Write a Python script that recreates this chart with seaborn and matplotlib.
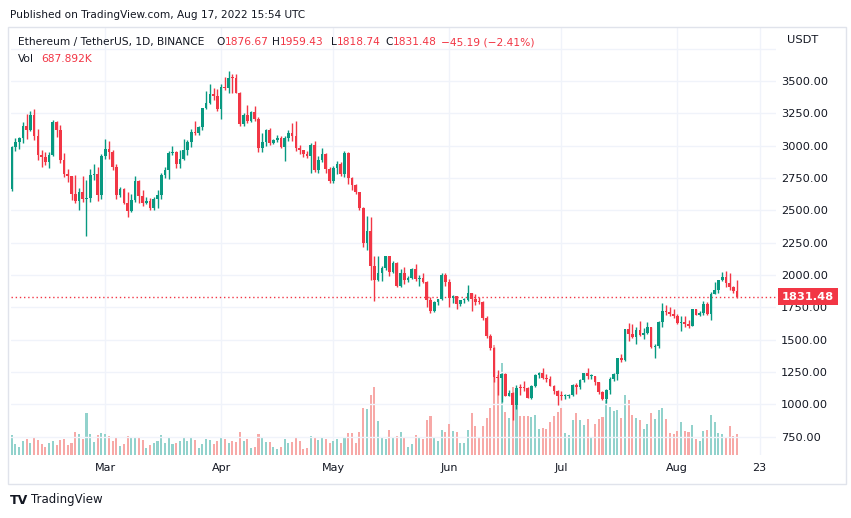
import numpy as np
import pandas as pd
import seaborn as sns
import matplotlib.pyplot as plt
from matplotlib.patches import Rectangle

# daily ETH/USDT candles, Feb 4 - Aug 17 2022
dates = pd.date_range('2022-02-04', '2022-08-17', freq='D')

opens = [2661, 2989, 3026, 3059, 3150, 3118, 3240, 3074, 2928, 2916, 2872, 2929, 3182, 3123, 2890, 2784, 2762, 2624, 2570, 2640, 2590, 2598, 2775, 2780, 2620,
         2920, 2973, 2950, 2834, 2617, 2664, 2555, 2495, 2576, 2728, 2608, 2559, 2571, 2518, 2591, 2620, 2773, 2814, 2945, 2948, 2860, 2895, 2970, 3030, 3108, 3101, 3143, 3295, 3329, 3399, 3384,
         3281, 3453, 3445, 3522, 3520, 3410, 3170, 3235, 3190, 3261, 3210, 2980, 3030, 3118, 3019, 3040, 3062, 2992, 3058, 3101, 3075, 2985, 2963, 2935, 2922, 3008, 2808, 2889, 2936, 2817,
         2726, 2825, 2857, 2780, 2940, 2748, 2695, 2640, 2518, 2245, 2343, 2072, 1962, 2014, 2056, 2145, 2024, 2090, 1913, 2018, 1960, 1975, 2043, 1972, 1978, 1943, 1803, 1725, 1791, 1812, 1997,
         1942, 1823, 1834, 1775, 1805, 1806, 1860, 1813, 1794, 1789, 1665, 1531, 1435, 1208, 1206, 1235, 1066, 1087, 994, 1128, 1127, 1125, 1051, 1144, 1225, 1243, 1200, 1193, 1143, 1099,
         1067, 1060, 1067, 1074, 1150, 1134, 1187, 1238, 1215, 1217, 1169, 1097, 1038, 1113, 1192, 1233, 1355, 1339, 1581, 1542, 1521, 1576, 1536, 1550, 1600, 1440, 1450, 1636, 1725, 1713, 1695,
         1679, 1631, 1633, 1619, 1608, 1736, 1694, 1705, 1776, 1701, 1852, 1880, 1958, 1983, 1935, 1904, 1876.67]
highs = [3000, 3056, 3069, 3180, 3247, 3271, 3283, 3132, 2968, 2949, 2948, 3200, 3191, 3159, 2944, 2820, 2767, 2770, 2671, 2768, 2736, 2823, 2858, 2835, 2932,
         3050, 3039, 2970, 2855, 2680, 2672, 2644, 2623, 2767, 2733, 2660, 2605, 2595, 2600, 2654, 2792, 2835, 2955, 3000, 2960, 2965, 3050, 3040, 3125, 3190, 3150, 3295, 3420, 3480, 3446, 3438,
         3475, 3534, 3580, 3553, 3555, 3414, 3250, 3313, 3270, 3305, 3218, 3100, 3130, 3137, 3055, 3079, 3075, 3078, 3120, 3172, 3190, 3005, 2965, 2962, 3018, 3038, 2920, 2985, 2945, 2835,
         2845, 2885, 2875, 2955, 2953, 2760, 2700, 2645, 2525, 2454, 2450, 2146, 2143, 2070, 2150, 2150, 2110, 2100, 2045, 2065, 1990, 2050, 2087, 2000, 2015, 1950, 1828, 1800, 1815, 2015, 2015,
         1972, 1842, 1835, 1808, 1820, 1920, 1862, 1850, 1830, 1800, 1685, 1544, 1445, 1265, 1245, 1240, 1110, 1095, 1152, 1158, 1177, 1130, 1150, 1234, 1250, 1281, 1235, 1220, 1146, 1114,
         1100, 1076, 1082, 1155, 1162, 1192, 1243, 1283, 1235, 1220, 1170, 1100, 1115, 1210, 1243, 1360, 1387, 1584, 1625, 1620, 1595, 1645, 1590, 1633, 1601, 1464, 1645, 1785, 1765, 1755, 1735,
         1697, 1680, 1680, 1655, 1740, 1740, 1725, 1795, 1790, 1870, 1942, 1963, 2020, 2030, 2013, 1917, 1959.43]
lows = [2652, 2958, 2976, 3022, 3053, 3110, 3046, 2888, 2835, 2851, 2830, 2921, 3070, 2865, 2760, 2720, 2580, 2560, 2503, 2565, 2300, 2565, 2735, 2575, 2584,
        2900, 2900, 2812, 2590, 2605, 2545, 2451, 2484, 2565, 2558, 2536, 2550, 2506, 2505, 2515, 2590, 2752, 2740, 2925, 2831, 2825, 2890, 2930, 2987, 3081, 3084, 3121, 3285, 3325, 3350, 3268,
        3210, 3433, 3410, 3405, 3405, 3150, 3154, 3172, 3185, 3188, 2950, 2950, 2996, 3005, 3010, 3025, 2985, 2884, 3038, 3035, 2962, 2935, 2915, 2905, 2790, 2793, 2790, 2870, 2790, 2715,
        2712, 2780, 2765, 2760, 2700, 2655, 2625, 2500, 2215, 2193, 1960, 1795, 1952, 1950, 2040, 1990, 2014, 1905, 1906, 1930, 1945, 1966, 1955, 1915, 1935, 1750, 1705, 1716, 1765, 1805, 1916,
        1750, 1785, 1740, 1757, 1780, 1800, 1722, 1770, 1775, 1650, 1510, 1423, 1170, 1075, 1017, 1060, 1060, 880, 960, 1070, 1105, 1046, 1044, 1133, 1201, 1195, 1170, 1138, 1080, 995,
        1034, 1040, 1045, 1060, 1080, 1120, 1170, 1195, 1198, 1152, 1082, 1032, 1006, 1078, 1176, 1190, 1330, 1337, 1490, 1510, 1465, 1525, 1502, 1543, 1437, 1356, 1433, 1600, 1690, 1680, 1670,
        1620, 1565, 1600, 1586, 1606, 1690, 1680, 1690, 1688, 1655, 1850, 1860, 1950, 1905, 1880, 1860, 1818.74]
closes = [2989, 3026, 3059, 3150, 3118, 3240, 3074, 2928, 2916, 2872, 2929, 3182, 3123, 2890, 2784, 2762, 2624, 2570, 2640, 2590, 2598, 2775, 2780, 2620, 2920,
          2973, 2950, 2834, 2617, 2664, 2555, 2495, 2576, 2728, 2608, 2559, 2571, 2518, 2591, 2620, 2773, 2814, 2945, 2948, 2860, 2895, 2970, 3030, 3108, 3101, 3143, 3295, 3329, 3399, 3384, 3281,
          3453, 3445, 3522, 3520, 3410, 3170, 3235, 3190, 3261, 3210, 2980, 3030, 3118, 3019, 3040, 3062, 2992, 3058, 3101, 3075, 2985, 2963, 2935, 2922, 3008, 2808, 2889, 2936, 2817, 2726,
          2825, 2857, 2780, 2940, 2748, 2695, 2640, 2518, 2245, 2343, 2072, 1962, 2014, 2056, 2145, 2024, 2090, 1913, 2018, 1960, 1975, 2043, 1972, 1978, 1943, 1803, 1725, 1791, 1812, 1997, 1942,
          1823, 1834, 1775, 1805, 1806, 1860, 1813, 1794, 1789, 1665, 1531, 1435, 1208, 1206, 1235, 1066, 1087, 994, 1128, 1127, 1125, 1051, 1144, 1225, 1243, 1200, 1193, 1143, 1099, 1067,
          1060, 1067, 1074, 1150, 1134, 1187, 1238, 1215, 1217, 1169, 1097, 1038, 1113, 1192, 1233, 1355, 1339, 1581, 1542, 1521, 1576, 1536, 1550, 1600, 1440, 1450, 1636, 1725, 1713, 1695, 1679,
          1631, 1633, 1619, 1608, 1736, 1694, 1705, 1776, 1701, 1852, 1880, 1958, 1983, 1935, 1904, 1877, 1831.48]
# volume in thousand ETH
volume_k = [654, 360, 262, 458, 523, 392, 589, 490, 360, 262, 392, 458, 327, 490, 523, 327, 392, 752, 687, 523, 1373, 687, 425, 654, 719,
            687, 621, 458, 556, 294, 360, 621, 556, 556, 556, 490, 229, 327, 392, 458, 654, 392, 556, 360, 392, 458, 589, 458, 589, 490, 229, 360, 523, 490, 360, 458,
            556, 523, 392, 458, 425, 752, 458, 523, 229, 262, 687, 589, 425, 425, 262, 196, 262, 523, 392, 425, 556, 458, 196, 229, 621, 556, 490, 556, 523, 392,
            458, 523, 392, 556, 719, 719, 392, 752, 1537, 1504, 1962, 2224, 1112, 556, 523, 818, 589, 621, 752, 589, 262, 360, 654, 556, 523, 1145, 1275, 556, 458, 818, 752,
            1014, 785, 752, 392, 392, 818, 1373, 948, 556, 948, 1210, 1537, 3600, 2616, 3008, 1406, 1210, 2224, 1668, 1275, 1275, 1275, 1243, 1308, 850, 883, 850, 1079, 1275, 1406,
            1537, 719, 654, 1145, 1373, 1145, 981, 1177, 589, 1014, 1177, 1243, 1798, 1570, 1439, 1472, 1210, 1962, 1798, 1308, 1210, 1145, 850, 1014, 1373, 1177, 1472, 1537, 1177, 719, 687,
            785, 1079, 785, 752, 981, 523, 458, 785, 818, 1308, 1079, 719, 687, 589, 948, 621, 687.892]

month_dates = ['2022-03-01', '2022-04-01', '2022-05-01', '2022-06-01', '2022-07-01', '2022-08-01', '2022-08-23']
month_labels = ['Mar', 'Apr', 'May', 'Jun', 'Jul', 'Aug', '23']
price_ticks = [750, 1000, 1250, 1500, 1750, 2000, 2250, 2500, 2750, 3000, 3250, 3500, 3750]
last_price = 1831.48

df = pd.DataFrame({'open': opens, 'high': highs, 'low': lows, 'close': closes, 'vol': volume_k})
df['day'] = (dates - dates[0]).days
df['dir'] = np.where(df['close'] >= df['open'], 'up', 'down')
month_days = list((pd.to_datetime(month_dates) - dates[0]).days)

UP, DOWN = '#089981', '#f23645'
TXT = '#131722'
GRID = '#f0f3fa'

sns.set_theme(style='white')
plt.rcParams['font.family'] = ['DejaVu Sans']

W, H = 851, 518
fig = plt.figure(figsize=(W / 100, H / 100), dpi=100)
fig.patch.set_facecolor('white')


def px_rect(l, t, r, b):
    return [l / W, 1 - b / H, (r - l) / W, (b - t) / H]


rect = px_rect(10.5, 28, 776, 455)

# volume underneath
axv = fig.add_axes(rect)
sns.barplot(data=df, x='day', y='vol', hue='dir', palette={'up': '#92d2cc', 'down': '#f7a9a7'},
            native_scale=True, dodge=False, width=0.55, saturation=1, linewidth=0,
            errorbar=None, legend=False, ax=axv)
axv.set_ylim(0, 14000)
axv.set_xlabel('')
axv.set_ylabel('')
axv.tick_params(left=False, bottom=False, labelleft=False, labelbottom=False)
for s in axv.spines.values():
    s.set_visible(False)
axv.set_facecolor('white')

# price axes on top
ax = fig.add_axes(rect, sharex=axv)
ax.set_facecolor('none')
cols = np.where(df['dir'] == 'up', UP, DOWN)
ax.vlines(df['day'], df['low'], df['high'], colors=cols, lw=1, zorder=3)
body_lo = np.minimum(df['open'], df['close'])
body_h = np.maximum(np.abs(df['close'] - df['open']), 8)
ax.bar(df['day'], body_h, bottom=body_lo, width=0.72, color=cols, linewidth=0, zorder=4)

ax.axhline(last_price, color=DOWN, lw=1, ls=(0, (1, 2)), zorder=2)

ax.set_xlim(-0.32, 204.4)
ax.set_ylim(607.5, 3910)
ax.set_xticks(month_days)
ax.set_xticklabels(month_labels)
ax.yaxis.tick_right()
ax.set_yticks(price_ticks)
ax.set_yticklabels([f'{p:.2f}' if p < 3600 else '' for p in price_ticks])
ax.tick_params(axis='y', length=0, pad=3.6, labelsize=8.2, labelcolor=TXT)
ax.tick_params(axis='x', length=0, pad=6, labelsize=8, labelcolor=TXT)
ax.grid(axis='y', color=GRID, lw=1, zorder=0)
axv.grid(axis='x', color=GRID, lw=1)
ax.grid(axis='x', visible=False)
for s in ax.spines.values():
    s.set_visible(False)

# last price tag
ax.text(1.0 + 6 / (776 - 10.5), last_price, f'{last_price:.2f}', transform=ax.get_yaxis_transform(),
        ha='left', va='center', fontsize=8.2, color='white', fontweight='bold', clip_on=False, zorder=10,
        bbox=dict(boxstyle='square,pad=0.32', fc=DOWN, ec='none'))

# outer frame
fig.patches.append(Rectangle((8 / W, 1 - 484 / H), 838 / W, 457 / H, transform=fig.transFigure,
                             fill=False, ec='#e0e3eb', lw=1))

renderer = fig.canvas.get_renderer()


def run(x, y, parts, size=7.7):
    for s, c in parts:
        t = fig.text(x / W, 1 - y / H, s, color=c, fontsize=size, va='center', ha='left')
        x += t.get_window_extent(renderer).width


run(10, 15, [('Published on TradingView.com, Aug 17, 2022 15:54 UTC', TXT)], size=7.6)
run(18, 42, [('Ethereum / TetherUS, 1D, BINANCE', TXT)])
run(216, 42, [('O', TXT), ('1876.67', DOWN)])
run(272, 42, [('H', TXT), ('1959.43', DOWN)])
run(331, 42, [('L', TXT), ('1818.74', DOWN)])
run(385, 42, [('C', TXT), ('1831.48', DOWN)])
run(441, 42, [('\u221245.19 (\u22122.41%)', DOWN)])
run(18, 59, [('Vol', TXT)])
run(41, 59, [('687.892K', DOWN)])
run(787, 40, [('USDT', TXT)], size=8.2)
fig.text(10 / W, 1 - 500 / H, 'TV', fontsize=9, fontweight='heavy', color=TXT, va='center', ha='left')
fig.text(31 / W, 1 - 500 / H, 'TradingView', fontsize=8.5, color=TXT, va='center', ha='left')

fig.savefig('out.png', dpi=100)
